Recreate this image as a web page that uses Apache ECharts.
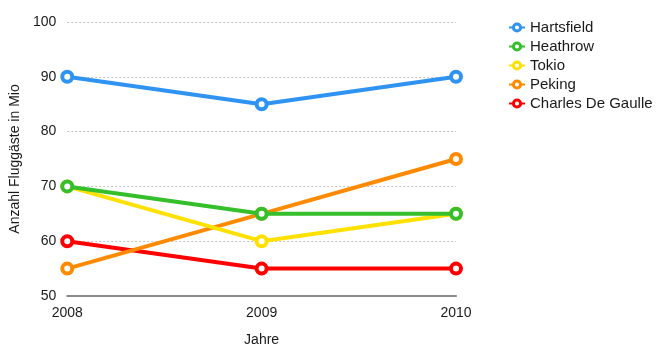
<!DOCTYPE html>
<html>
<head>
<meta charset="utf-8">
<script src="https://cdn.jsdelivr.net/npm/echarts@6/dist/echarts.min.js"></script>
<style>
  html, body { margin: 0; padding: 0; background: #fff; }
  #chart { width: 666px; height: 353px; }
</style>
</head>
<body>
<div id="chart"></div>
<script>
// Daten
const years = ['2008', '2009', '2010'];
const hartsfield = [90, 85, 90];
const heathrow = [70, 65, 65];
const tokio = [70, 60, 65];
const peking = [55, 65, 75];
const charlesDeGaulle = [60, 55, 55];

const seriesNames = ['Hartsfield', 'Heathrow', 'Tokio', 'Peking', 'Charles De Gaulle'];
const seriesData = [hartsfield, heathrow, tokio, peking, charlesDeGaulle];
const colors = ['#2f93f2', '#35bf2a', '#ffe100', '#ff8a00', '#ff0000'];

const font = '"Liberation Sans", Arial, sans-serif';

const chart = echarts.init(document.getElementById('chart'));

chart.setOption({
  animation: false,
  textStyle: { fontFamily: font },
  grid: { left: 64, right: 210, top: 22, bottom: 57 },
  legend: {
    orient: 'vertical',
    left: 503,
    top: 15,
    itemWidth: 16,
    itemHeight: 9,
    itemGap: 4,
    textStyle: { fontSize: 15, color: '#1a1a1a', fontFamily: font },
    data: seriesNames.map((name, i) => ({
      name: name,
      itemStyle: { color: '#fff', borderColor: colors[i], borderWidth: 3 }
    }))
  },
  xAxis: {
    type: 'category',
    data: years,
    boundaryGap: false,
    name: 'Jahre',
    nameLocation: 'middle',
    nameGap: 37,
    nameTextStyle: { fontSize: 14, color: '#1a1a1a' },
    axisLine: { lineStyle: { color: '#888', width: 2 } },
    axisTick: { show: false },
    axisLabel: { fontSize: 14, color: '#1a1a1a', margin: 10 }
  },
  yAxis: {
    type: 'value',
    min: 50,
    max: 100,
    interval: 10,
    name: 'Anzahl Fluggäste in Mio',
    nameLocation: 'middle',
    nameGap: 45,
    nameTextStyle: { fontSize: 14, color: '#1a1a1a' },
    axisLine: { show: false },
    axisTick: { show: false },
    axisLabel: { fontSize: 14, color: '#1a1a1a', margin: 11 },
    splitLine: { lineStyle: { color: '#c4c4c4', type: [2, 2], width: 1 } }
  },
  series: seriesNames.map((name, i) => ({
    name: name,
    type: 'line',
    data: seriesData[i],
    z: 10 - i,
    symbol: 'circle',
    symbolSize: 10,
    lineStyle: { width: 4, color: colors[i] },
    itemStyle: { color: '#fff', borderColor: colors[i], borderWidth: 4 }
  }))
});
</script>
</body>
</html>
